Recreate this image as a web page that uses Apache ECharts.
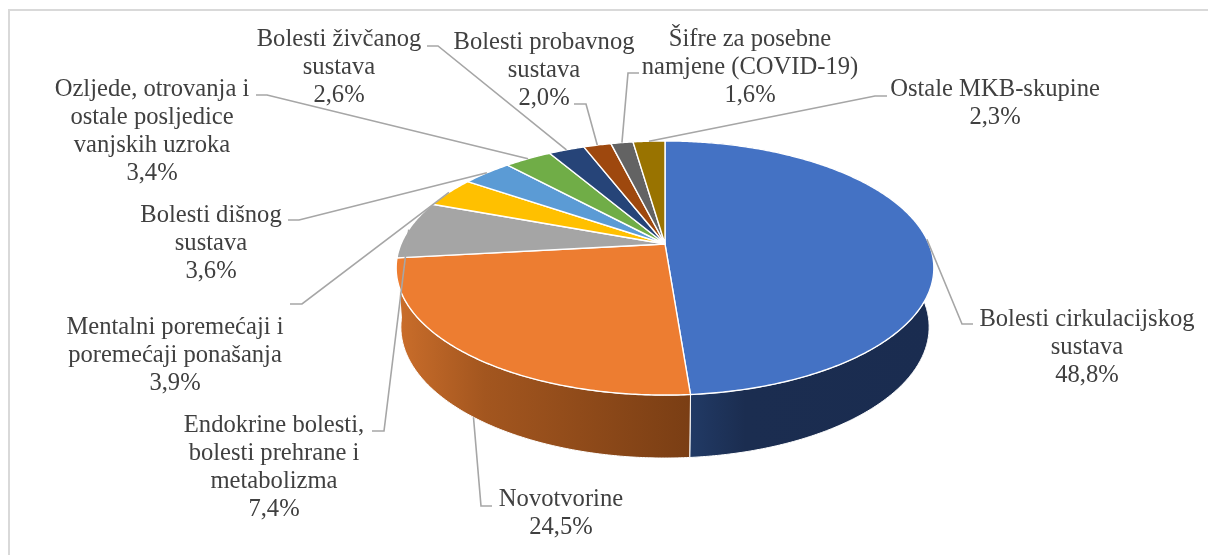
<!DOCTYPE html>
<html>
<head>
<meta charset="utf-8">
<style>html,body{margin:0;padding:0;background:#fff}#c{width:1208px;height:555px}</style>
<script src="https://cdn.jsdelivr.net/npm/echarts@6/dist/echarts.min.js"></script>
</head>
<body>
<div id="c"></div>
<script>
// Data
const categories = [
  'Bolesti cirkulacijskog\nsustava',
  'Novotvorine',
  'Endokrine bolesti,\nbolesti prehrane i\nmetabolizma',
  'Mentalni poremećaji i\nporemećaji ponašanja',
  'Bolesti dišnog\nsustava',
  'Ozljede, otrovanja i\nostale posljedice\nvanjskih uzroka',
  'Bolesti živčanog\nsustava',
  'Bolesti probavnog\nsustava',
  'Šifre za posebne\nnamjene (COVID-19)',
  'Ostale MKB-skupine'
];
const shares = [48.8, 24.5, 7.4, 3.9, 3.6, 3.4, 2.6, 2.0, 1.6, 2.3];
const colors = ['#4472C4','#ED7D31','#A5A5A5','#FFC000','#5B9BD5','#70AD47','#264478','#9E480E','#636363','#997300'];
const wallStops = [
  ['#24406f','#1b2d50','#1a2c50'],
  ['#cb6e2b','#a3561f','#7a3e14'],
  ['#7c7c7c','#6c6c6c','#5c5c5c'],
  ['#bf9000','#bf9000','#bf9000'],
  ['#3f74a5','#3f74a5','#3f74a5'],
  ['#4f7a32','#4f7a32','#4f7a32'],
  ['#1a2f54','#1a2f54','#1a2f54'],
  ['#6f320a','#6f320a','#6f320a'],
  ['#454545','#454545','#454545'],
  ['#6b5000','#6b5000','#6b5000']
];

// Layout of the labels: text centre, elbow start, elbow, leader ends on the floor plane?
const labelLayout = [
  {x:1087, y:347.5, a:[973,324], b:[962,324]},
  {x:561,  y:513.5, a:[492,506], b:[481,506], low:true},
  {x:274,  y:467.5, a:[372,431], b:[384,431]},
  {x:175,  y:355.5, a:[290,304], b:[302,304]},
  {x:211,  y:243.5, a:[288,220], b:[299,220]},
  {x:152,  y:131.5, a:[256,95],  b:[267,95]},
  {x:339,  y:67.5,  a:[427,46],  b:[438,46]},
  {x:544,  y:70.5,  a:[574,104], b:[586,104]},
  {x:750,  y:67.5,  a:[639,73],  b:[628,73]},
  {x:995,  y:103.5, a:[887,96],  b:[875,96]}
];

// Perspective planes of the disc (top face and floor of the wall)
const topPlane = {x0:665, R:264, a:76.4, b:244, c:-0.189};
const lowPlane = {x0:665, R:260, a:73.6, b:304, c:-0.1756};
function project(p, theta){
  const u = Math.sin(theta), v = -Math.cos(theta), w = 1 + p.c * v;
  return [p.x0 + p.R * u / w, (p.a * v + p.b) / w];
}
const total = shares.reduce((s,v)=>s+v,0);
function range(i){
  let before = 0;
  for (let k=0;k<i;k++) before += shares[k];
  return [before/total*2*Math.PI, (before+shares[i])/total*2*Math.PI];
}
function arc(p, t0, t1){
  const n = Math.max(2, Math.ceil((t1-t0)/0.01)), pts=[];
  for (let k=0;k<=n;k++) pts.push(project(p, t0+(t1-t0)*k/n));
  return pts;
}
const seriesData = shares.map((v,i)=>({name:categories[i], value:v}));

function renderWall(params){
  const i = params.dataIndex, [t0,t1] = range(i);
  // slices that stay on the far side of the disc show no wall
  if (Math.max(-Math.cos(t0), -Math.cos(t1)) < 0.2) return null;
  const pts = arc(topPlane,t0,t1).concat(arc(lowPlane,t0,t1).reverse());
  const s = wallStops[i];
  return {type:'polygon', shape:{points:pts}, style:{
    fill:{type:'linear',x:0,y:0,x2:1,y2:0,colorStops:[{offset:0,color:s[0]},{offset:0.3,color:s[1]},{offset:1,color:s[2]}]},
    stroke:'#ffffff', lineWidth:1, lineJoin:'round'}};
}
function renderTop(params){
  const i = params.dataIndex, [t0,t1] = range(i);
  const pts = [[topPlane.x0,topPlane.b]].concat(arc(topPlane,t0,t1));
  return {type:'polygon', shape:{points:pts}, style:{fill:colors[i], stroke:'#ffffff', lineWidth:1.4, lineJoin:'round'}};
}
function renderLabel(params){
  const i = params.dataIndex, [t0,t1] = range(i), L = labelLayout[i];
  const end = project(L.low ? lowPlane : topPlane, (t0+t1)/2);
  const pct = shares[i].toFixed(1).replace('.',',') + '%';
  return {type:'group', children:[
    {type:'polyline', shape:{points:[L.a,L.b,end]}, style:{fill:null, stroke:'#a6a6a6', lineWidth:1.6}},
    {type:'text', x:L.x, y:L.y, style:{
      text:categories[i]+'\n'+pct, align:'center', verticalAlign:'middle',
      font:'24.6px "Liberation Serif", serif', lineHeight:28.3, fill:'#404040'}}
  ]};
}
const chart = echarts.init(document.getElementById('c'), null, {renderer:'canvas'});
chart.setOption({
  animation:false,
  backgroundColor:'#ffffff',
  tooltip:{show:false},
  graphic:[{type:'polyline', z:0, shape:{points:[[9,556],[9,10],[1209,10]]}, style:{fill:null, stroke:'#d9d9d9', lineWidth:2}}],
  series:[
    {type:'custom', coordinateSystem:'none', z:1, silent:true, data:seriesData, renderItem:renderWall},
    {type:'custom', coordinateSystem:'none', z:2, silent:true, data:seriesData, renderItem:renderTop},
    {type:'custom', coordinateSystem:'none', z:3, silent:true, data:seriesData, renderItem:renderLabel}
  ]
});
</script>
</body>
</html>
